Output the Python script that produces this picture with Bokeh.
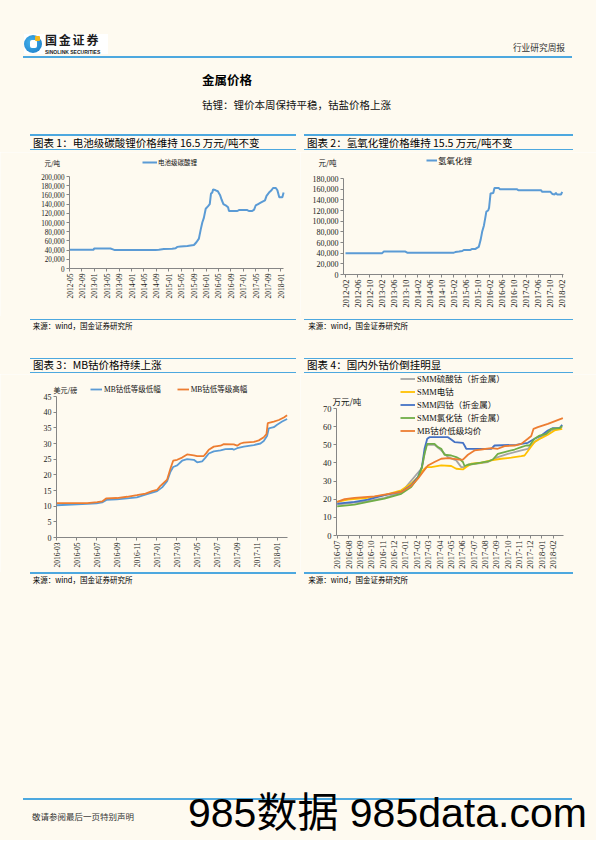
import math
from bokeh.plotting import figure
from bokeh.layouts import column, row
from bokeh.models import (Div, FixedTicker, Legend, LegendItem, NumeralTickFormatter,
                          Label, Range1d)
from bokeh.embed import file_html
from bokeh.resources import INLINE

BG = "#FEFAF0"
RULE = "#4DA8DF"
AXIS = "#868686"
CJK = "Noto Sans CJK SC"
SERIF = "Liberation Serif"
MIXED = "Liberation Serif, Noto Sans CJK SC"

# ---------------- data ----------------
# Chart 1: battery-grade lithium carbonate (yuan/t); x = months since 2012-05
c1_origin = "2012-05"
c1_month = [0, 7.8, 7.9, 13.2, 14.0, 14.6, 27.7, 28.8, 30.4, 33.1, 34.2, 34.7, 35.8, 38.0, 39.0,
            40.1, 40.9, 41.7, 42.3, 42.8, 43.3, 43.9, 44.6, 45.2, 45.6, 46.0, 46.3, 47.1, 47.8, 48.5,
            49.0, 49.6, 50.6, 51.1, 51.4, 54.1, 54.6, 57.3, 57.8, 58.9, 59.5, 60.0, 60.8, 61.6, 63.0,
            63.5, 64.3, 65.1, 65.6, 66.5, 67.0, 67.6, 68.6, 69.0]
c1_price = [40500, 40500, 43500, 43500, 41500, 40000, 40000, 41000, 42500, 43000, 44000, 47000, 48000, 49000, 50000,
            51000, 57000, 65000, 85000, 100000, 110000, 130000, 135000, 140000, 163000, 165000, 172000, 170000, 168000, 160000,
            150000, 140000, 136000, 133000, 125000, 125000, 127000, 127000, 125000, 125000, 128000, 137000, 140000, 143000, 148000,
            158000, 165000, 170000, 175000, 175000, 170000, 155000, 155000, 165000]
c1_x_labels = ["2012-05", "2012-09", "2013-01", "2013-05", "2013-09", "2014-01", "2014-05", "2014-09",
               "2015-01", "2015-05", "2015-09", "2016-01", "2016-05", "2016-09", "2017-01", "2017-05",
               "2017-09", "2018-01"]
c1_y_ticks = [0, 20000, 40000, 60000, 80000, 100000, 120000, 140000, 160000, 180000, 200000]
c1_series = "电池级碳酸锂"

# Chart 2: lithium hydroxide (yuan/t); x = months since 2012-02
c2_origin = "2012-02"
c2_month = [0, 12.2, 12.7, 19.9, 20.5, 36.0, 36.5, 37.7, 38.8, 39.3, 41.5, 42.1, 43.2, 43.7, 44.3,
            44.9, 45.4, 46.0, 46.5, 46.8, 47.4, 47.7, 48.2, 49.1, 49.5, 50.9, 51.3, 57.0, 57.4, 65.0,
            65.3, 68.1, 68.7, 69.5, 69.9, 70.3, 71.6, 72.0]
c2_price = [40000, 40000, 43000, 43000, 41000, 41000, 42000, 43000, 44000, 46000, 46000, 48000, 48000, 50000, 52000,
            65000, 80000, 92000, 108000, 118000, 120000, 125000, 152000, 153000, 162000, 162000, 160000, 160000, 158000, 158000,
            155000, 155000, 151000, 150000, 153000, 150000, 150000, 155000]
c2_x_labels = ["2012-02", "2012-06", "2012-10", "2013-02", "2013-06", "2013-10", "2014-02", "2014-06",
               "2014-10", "2015-02", "2015-06", "2015-10", "2016-02", "2016-06", "2016-10", "2017-02",
               "2017-06", "2017-10", "2018-02"]
c2_y_ticks = [0, 20000, 40000, 60000, 80000, 100000, 120000, 140000, 160000, 180000]
c2_series = "氢氧化锂"

# Chart 3: MB cobalt (USD/lb); x = months since 2016-03
c3_origin = "2016-03"
c3_low_month = [0, 2.06, 3.06, 3.99, 4.55, 4.98, 6.01, 7.04, 8.01, 8.70,
                9.53, 10.03, 10.53, 11.03, 11.36, 11.63, 12.03, 12.52, 13.02, 13.69,
                14.02, 14.52, 14.85, 15.18, 15.68, 16.35, 16.84, 17.51, 17.67, 18.01,
                18.67, 19.67, 20.33, 20.66, 21.0, 21.16, 21.66, 21.99, 22.49, 22.99]
c3_low = [10.3, 10.6, 10.7, 10.9, 11.2, 12, 12.2, 12.5, 12.8, 13.5,
          14.3, 14.8, 16, 18, 21, 22.5, 23, 24.5, 25, 24.8,
          24, 24.3, 25.5, 26.8, 27.5, 27.8, 28.2, 28.3, 28, 28.5,
          29, 29.5, 30, 30.8, 32.5, 34.8, 35.2, 36, 37, 37.8]
c3_high_month = [0, 2.06, 3.06, 4.05, 4.55, 4.98, 6.01, 7.04, 8.01, 8.87,
                 9.53, 10.03, 10.36, 11.03, 11.36, 11.63, 12.03, 12.52, 13.02, 13.69,
                 14.02, 14.68, 14.95, 15.18, 15.68, 16.35, 16.68, 17.67, 18.01, 18.34,
                 18.67, 19.67, 20.17, 20.66, 20.93, 21.06, 21.66, 22.16, 22.66, 22.99]
c3_high = [11, 11, 11, 11.3, 11.5, 12.5, 12.6, 13, 13.5, 14,
           14.8, 15.2, 16.5, 18.5, 22, 24.5, 24.8, 25.5, 26.5, 26.2,
           26, 26, 27, 28, 29, 29.3, 29.8, 29.7, 29.3, 30,
           30.3, 30.5, 31, 32, 33, 36.5, 37, 37.5, 38.3, 39]
c3_x_labels = ["2016-03", "2016-05", "2016-07", "2016-09", "2016-11", "2017-01", "2017-03",
               "2017-05", "2017-07", "2017-09", "2017-11", "2018-01"]
c3_y_ticks = [0, 5, 10, 15, 20, 25, 30, 35, 40, 45]
c3_names = ["MB钴低等级低幅", "MB钴低等级高幅"]

# Chart 4: domestic vs overseas cobalt (10k yuan/t); x = months since 2016-07
c4_origin = "2016-07"
c4_sulfate_month = [0, 2.7, 4.16, 5.63, 7.45, 7.83, 8.56, 9.15, 9.74, 10.47, 10.91, 11.2, 11.5,
                    13.26, 14.13, 15.01, 16.19, 16.77, 17.36, 17.95, 18.83, 19.79]
c4_sulfate = [17, 18.9, 20.8, 23.6, 37.2, 50, 50, 46.9, 43.2, 41.4, 37.7, 37.7, 39,
              40.5, 43.2, 45, 46.9, 47.8, 51.5, 54.2, 57.9, 59.7]
c4_metal_month = [0, 0.94, 2.7, 4.16, 5.63, 6.51, 7.1, 7.54, 7.83, 8.27,
                  9.15, 10.03, 10.47, 11.06, 11.35, 11.79, 12.67, 13.55, 14.43, 15.31,
                  16.19, 16.48, 16.92, 17.36, 17.95, 18.53, 19.12, 19.79]
c4_metal = [18.5, 19.8, 20.7, 22.2, 24.9, 28.6, 32.2, 35.9, 37.7, 37.7,
            38.6, 38.3, 36.8, 36.4, 37.7, 39.6, 40.1, 41.4, 42.3, 42.9,
            43.8, 44.1, 47.8, 51.5, 53.7, 55.5, 57.9, 58.8]
c4_oxide_month = [0, 1.52, 2.7, 4.16, 5.63, 6.51, 7.1, 7.45, 7.68, 7.92,
                  8.12, 9.74, 10.03, 10.32, 11.06, 11.2, 11.35, 13.55, 13.84, 15.75,
                  16.19, 16.77, 17.36, 17.95, 18.53, 18.97, 19.56, 19.79]
c4_oxide = [17.6, 18.5, 19.8, 22.2, 24, 27.7, 32.2, 37.7, 47.8, 53.3,
            54.2, 54.2, 52.9, 51.5, 51.1, 49.6, 47.8, 47.8, 49.6, 50,
            50.5, 51.1, 53.3, 55.1, 57.9, 59.2, 59.2, 61]
c4_chloride_month = [0, 1.52, 2.7, 4.16, 5.63, 6.51, 7.1, 7.45, 7.68, 7.92,
                     8.56, 8.86, 9.15, 9.44, 10.03, 10.47, 10.76, 11.06, 11.2, 11.5,
                     12.38, 13.26, 13.69, 14.13, 14.72, 15.6, 16.19, 16.63, 16.92, 17.36,
                     17.8, 18.39, 18.83, 19.56, 19.79]
c4_chloride = [16.1, 17, 18.5, 20.3, 23, 26.7, 31.7, 37.7, 45, 50.5,
               50.5, 48.7, 47.8, 44.5, 44.1, 43.2, 42.3, 40.5, 38.3, 39,
               39.9, 40.8, 41.9, 45, 46, 47.4, 48.7, 49.6, 49.6, 53.3,
               55.1, 56, 58.8, 59.2, 60.3]
c4_mb_month = [0, 0.65, 1.52, 3.28, 4.16, 5.63, 6.51, 7.1, 7.54, 7.98,
               8.56, 9.15, 9.74, 10.62, 11.06, 11.5, 12.08, 12.67, 13.55, 14.13,
               14.72, 15.6, 16.19, 16.77, 17.07, 17.27, 17.65, 18.53, 19.85]
c4_mb = [18.5, 20, 20.7, 21.6, 22.5, 24, 27.3, 31.3, 35, 38.6,
         40.5, 42.3, 42.7, 41.9, 41.8, 44.5, 46.9, 47.4, 48.2, 47.8,
         49.3, 49.6, 50.5, 53.3, 54.8, 58.8, 59.7, 61.5, 64.7]
c4_x_labels = ["2016-07", "2016-08", "2016-09", "2016-10", "2016-11", "2016-12", "2017-01",
               "2017-02", "2017-03", "2017-04", "2017-05", "2017-06", "2017-07", "2017-08",
               "2017-09", "2017-10", "2017-11", "2017-12", "2018-01", "2018-02"]
c4_y_ticks = [0, 10, 20, 30, 40, 50, 60, 70]
c4_names = ["SMM硫酸钴（折金属）", "SMM电钴", "SMM四钴（折金属）", "SMM氯化钴（折金属）", "MB钴价低级均价"]
c4_colors = ["#A5A5A5", "#FFC000", "#4472C4", "#70AD47", "#ED7D31"]


def month_offset(label, origin):
    y, m = map(int, label.split("-"))
    y0, m0 = map(int, origin.split("-"))
    return (y - y0) * 12 + (m - m0)


def lin(a_px, a_val, b_px, b_val):
    k = (b_val - a_val) / (b_px - a_px)
    return lambda px: a_val + (px - a_px) * k


# ---------------- helpers ----------------
def make_chart(box_px, xmap, ymap, axis_px, x_end, origin, xlabels, yticks, xsize, ysize, numeral=False):
    """box_px = (left, top, right, bottom) of the figure on the page; the frame fills the figure
    and the axes are pinned where the original chart draws them."""
    left, top, right, bottom = box_px
    w, h = right - left, bottom - top
    p = figure(width=w, height=h, output_backend="svg", toolbar_location=None, title=None,
               x_range=Range1d(xmap(left), xmap(right)), y_range=Range1d(ymap(bottom), ymap(top)),
               min_border=0, min_border_left=0, min_border_right=0,
               min_border_top=0, min_border_bottom=0,
               background_fill_color=BG, border_fill_color=BG, outline_line_color=None)
    p.grid.visible = False
    x0 = xmap(axis_px)
    xticks = [month_offset(l, origin) for l in xlabels]
    p.xaxis.ticker = FixedTicker(ticks=xticks)
    p.xaxis.major_label_overrides = {t: l for t, l in zip(xticks, xlabels)}
    p.xaxis.major_label_orientation = math.pi / 2
    p.xaxis.fixed_location = 0
    p.xaxis.bounds = (x0, x_end)
    p.yaxis.ticker = FixedTicker(ticks=yticks)
    p.yaxis.fixed_location = x0
    p.yaxis.bounds = (0, yticks[-1])
    if numeral:
        p.yaxis.formatter = NumeralTickFormatter(format="0,0")
    for ax, size in ((p.xaxis, xsize), (p.yaxis, ysize)):
        ax.axis_line_color = AXIS
        ax.major_tick_line_color = AXIS
        ax.minor_tick_line_color = None
        ax.major_tick_out = 3
        ax.major_tick_in = 0
        ax.major_label_standoff = 2
        ax.major_label_text_font = SERIF
        ax.major_label_text_font_size = size
        ax.major_label_text_color = "#1a1a1a"
    return p


def unit_label(p, text, x, y, size):
    p.add_layout(Label(x=x, y=y, x_units="screen", y_units="screen", text=text,
                       text_font=CJK, text_font_size=size, text_baseline="middle",
                       text_align="left", text_color="#111111"))


def legend(p, items, loc, glyph_w, size, height, standoff, orientation="vertical", spacing=0):
    lg = Legend(items=items, location=loc, orientation=orientation, padding=0, margin=0,
                spacing=spacing, glyph_width=glyph_w, glyph_height=height, label_height=height,
                label_standoff=standoff, label_text_font=MIXED, label_text_font_size=size,
                label_text_color="#111111", background_fill_alpha=0, border_line_alpha=0)
    p.add_layout(lg)


def txt(x, y, text, size, weight="normal", color="#000", font="'Noto Sans CJK SC'", align="left", extra=""):
    tr = "translate(-100%,-50%)" if align == "right" else "translateY(-50%)"
    return (f'<div style="position:absolute;left:{x}px;top:{y}px;transform:{tr};'
            f'font-family:{font};font-size:{size}px;font-weight:{weight};color:{color};'
            f'white-space:nowrap;line-height:1.1;{extra}">{text}</div>')


def hline(x1, x2, y, t=1.5, color=RULE):
    return (f'<div style="position:absolute;left:{x1}px;top:{y - t / 2}px;width:{x2 - x1}px;'
            f'height:{t}px;background:{color}"></div>')


def box(w, h, inner):
    html = (f'<div style="position:relative;width:{w}px;height:{h}px;background:{BG};'
            f'overflow:hidden">{inner}</div>')
    return Div(text=html, width=w, height=h, margin=0, styles={"background-color": BG})


# ---------------- header (page y 0..130) ----------------
logo = (
    '<div style="position:absolute;left:24px;top:34px;width:84px;height:20px;background:#ffffff"></div>'
    '<div style="position:absolute;left:24px;top:35px;width:18px;height:18px;border-radius:50%;'
    'background:radial-gradient(circle at 40% 40%, #46b3ec, #1677c4)"></div>'
    '<div style="position:absolute;left:30px;top:40px;width:7px;height:8px;border-radius:2px;background:#ffffff"></div>'
    '<div style="position:absolute;left:35px;top:36px;width:5px;height:5px;border-radius:1px;background:#f4b81c"></div>'
)
header_inner = (
    logo
    + txt(45, 40.2, "国金证券", 12, "bold", "#1b1b1b", extra="letter-spacing:1.8px;line-height:1")
    + txt(45, 52.2, "SINOLINK SECURITIES", 5, "bold", "#1b1b1b", "'Liberation Sans'", extra="line-height:1")
    + hline(23, 572, 57)
    + txt(565, 47.7, "行业研究周报", 8.7, "normal", "#333333", align="right")
    + txt(202, 80, "金属价格", 12.5, "bold", "#000000")
    + txt(202, 105, "钴锂：锂价本周保持平稳，钴盐价格上涨", 10.5, "normal", "#111111")
)
header = box(596, 130, header_inner)

SRC = "来源：wind，国金证券研究所"

# ---------------- row B (page y 130..340) ----------------
t1 = box(300, 22, hline(30, 296, 5) + hline(30, 296, 19.3)
         + txt(33, 12.8, "图表 1：电池级碳酸锂价格维持 16.5 万元/吨不变", 10.5))
s1 = box(300, 24, hline(30, 296, 3.3) + txt(32.7, 10, SRC, 7.5))
p1 = make_chart((0, 152, 300, 316), lin(69, 0, 280, 68), lin(268, 0, 176, 200000), 69, 69,
                c1_origin, c1_x_labels, c1_y_ticks, "7.5px", "7.2px", numeral=True)
r1 = p1.line(c1_month, c1_price, line_color="#5B9BD5", line_width=2)
unit_label(p1, "元/吨", 44, 154, "6.5px")
legend(p1, [LegendItem(label=c1_series, renderers=[r1])], (142, 149), 15, "6.5px", 10, 1)

t2 = box(296, 22, hline(4, 273, 5) + hline(4, 273, 19.3)
         + txt(7, 12.8, "图表 2：氢氧化锂价格维持 15.5 万元/吨不变", 10.5))
s2 = box(296, 24, hline(4, 273, 3.3) + txt(8.3, 10, SRC, 7.5))
p2 = make_chart((300, 152, 596, 316), lin(345, 0, 561.7, 72), lin(274, 0, 178, 180000), 343, 72.3,
                c2_origin, c2_x_labels, c2_y_ticks, "8.4px", "8px", numeral=True)
r2 = p2.line(c2_month, c2_price, line_color="#5B9BD5", line_width=2)
unit_label(p2, "元/吨", 18, 154, "7.5px")
legend(p2, [LegendItem(label=c2_series, renderers=[r2])], (126, 150), 11, "8.5px", 10, 1)

# ---------------- row C (page y 340..590) ----------------
t3 = box(300, 34, hline(30, 296, 18.3) + hline(30, 296, 32.3)
         + txt(33, 25, "图表 3：MB钴价格持续上涨", 10.5))
s3 = box(300, 18, hline(30, 296, 1) + txt(32.7, 7.5, SRC, 7.5))
p3 = make_chart((0, 374, 300, 572), lin(56, 0, 276.7, 22), lin(537, 0, 396, 45), 56, 23,
                c3_origin, c3_x_labels, c3_y_ticks, "7.5px", "8px")
r3a = p3.line(c3_low_month, c3_low, line_color="#5B9BD5", line_width=1.8)
r3b = p3.line(c3_high_month, c3_high, line_color="#ED7D31", line_width=1.8)
unit_label(p3, "美元/磅", 53, 183, "7px")
legend(p3, [LegendItem(label=c3_names[0], renderers=[r3a]),
            LegendItem(label=c3_names[1], renderers=[r3b])],
       (90, 178), 12, "7.5px", 10, 2, orientation="horizontal", spacing=16)

t4 = box(296, 34, hline(4, 273, 18.3) + hline(4, 273, 32.3)
         + txt(7, 25, "图表 4：国内外钴价倒挂明显", 10.5))
s4 = box(296, 18, hline(4, 273, 1) + txt(8.3, 7.5, SRC, 7.5))
p4 = make_chart((300, 374, 596, 572), lin(336.7, 0, 552.7, 19), lin(535, 0, 408, 70), 336, 19.9,
                c4_origin, c4_x_labels, c4_y_ticks, "8.5px", "8.5px")
c4_xs = [c4_sulfate_month, c4_metal_month, c4_oxide_month, c4_chloride_month, c4_mb_month]
c4_ys = [c4_sulfate, c4_metal, c4_oxide, c4_chloride, c4_mb]
r4 = [p4.line(xs, ys, line_color=c, line_width=1.8) for xs, ys, c in zip(c4_xs, c4_ys, c4_colors)]
unit_label(p4, "万元/吨", 32, 172, "8.5px")
legend(p4, [LegendItem(label=n, renderers=[r]) for n, r in zip(c4_names, r4)],
       (100, 136), 15, "8.5px", 11, 2, spacing=1)

# ---------------- footer (page y 590..840) ----------------
footer_inner = (
    hline(23, 572, 209)
    + txt(32, 226.7, "敬请参阅最后一页特别声明", 8.5, "normal", "#333333")
    + f'<div style="position:absolute;left:188px;top:203px;font-family:\'Liberation Sans\',\'Noto Sans CJK SC\';'
      f'font-size:41px;line-height:40px;color:#000;white-space:nowrap">985数据 985data.com</div>'
)
footer = box(596, 250, footer_inner)

layout = column(
    header,
    row(column(t1, p1, s1, spacing=0), column(t2, p2, s2, spacing=0), spacing=0),
    row(column(t3, p3, s3, spacing=0), column(t4, p4, s4, spacing=0), spacing=0),
    footer,
    spacing=0,
)

open("out.html", "w").write(file_html(layout, INLINE))
